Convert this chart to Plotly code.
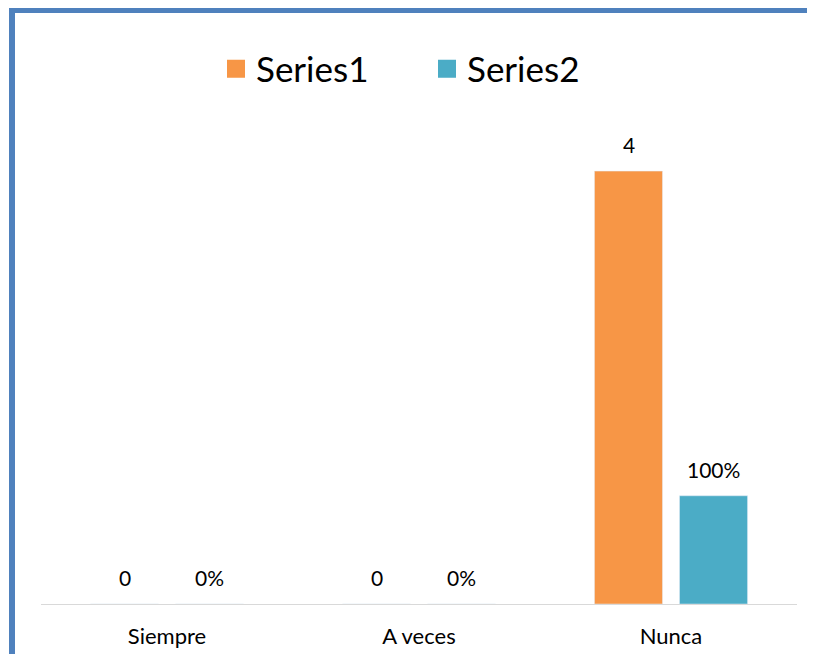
import plotly.graph_objects as go

categories = ["Siempre", "A veces", "Nunca"]
series1 = [0, 0, 4]
series2 = [0, 0, 1]  # shown as percent
series1_labels = ["0", "0", "4"]
series2_labels = ["0%", "0%", "100%"]

OFF = 8  # page body margin
W, H = 815 - 2 * OFF, 662 - 2 * OFF
# plot area in screen pixels
P_LEFT, P_RIGHT, P_TOP, P_BOTTOM = 41, 797, 117, 604
L = P_LEFT - OFF
R = W - (P_RIGHT - OFF)
T = P_TOP - OFF
B = H - (P_BOTTOM - OFF)
pw, ph = W - L - R, H - T - B


def px_x(x):
    return (x - OFF - L) / pw


def px_y(y):
    return (H - B - (y - OFF)) / ph


colors = {"Series1": "#f79646", "Series2": "#4bacc6"}

fig = go.Figure()
fig.add_trace(go.Bar(x=categories, y=series1, name="Series1",
                     marker=dict(color=colors["Series1"]), showlegend=False))
fig.add_trace(go.Bar(x=categories, y=series2, name="Series2",
                     marker=dict(color=colors["Series2"]), showlegend=False))

# legend entries with bigger square swatches
for name in ["Series1", "Series2"]:
    fig.add_trace(go.Scatter(
        x=[None], y=[None], mode="markers", name=name,
        marker=dict(symbol="square", size=16, color=colors[name],
                    line=dict(color=colors[name], width=2)),
    ))

# data labels above bars
for vals, labels, shift in [(series1, series1_labels, -42.5), (series2, series2_labels, 42.5)]:
    for cat, v, lab in zip(categories, vals, labels):
        fig.add_annotation(x=cat, y=v, text=lab, showarrow=False,
                           xshift=shift, yshift=12, yanchor="bottom",
                           font=dict(size=21, color="#000000"))

# blue frame on left and top edges
frame = "#4f81bd"
fig.add_shape(type="rect", xref="paper", yref="paper",
              x0=px_x(9), x1=px_x(15), y0=px_y(H + 40), y1=px_y(8),
              fillcolor=frame, line_width=0, layer="above")
fig.add_shape(type="rect", xref="paper", yref="paper",
              x0=px_x(9), x1=px_x(W + 40), y0=px_y(13), y1=px_y(8),
              fillcolor=frame, line_width=0, layer="above")

fig.update_layout(
    width=W, height=H,
    margin=dict(l=L, r=R, t=T, b=B, autoexpand=False),
    paper_bgcolor="white", plot_bgcolor="white",
    font=dict(family="Lato, Carlito, sans-serif", color="#000000"),
    barmode="group", bargap=0.325, bargroupgap=0.2,
    legend=dict(orientation="h", x=px_x(216), xanchor="left",
                y=px_y(69), yanchor="middle",
                font=dict(size=35, color="#000000"),
                entrywidth=166, itemsizing="trace"),
    showlegend=True,
)
fig.update_xaxes(showline=True, linecolor="#d9d9d9", linewidth=1,
                 ticks="", tickfont=dict(size=22, color="#000000"),
                 ticklabelstandoff=13, showgrid=False, automargin=False)
fig.update_yaxes(range=[0, 4.5], visible=False, showgrid=False, zeroline=False)

fig.write_html("out.html")
